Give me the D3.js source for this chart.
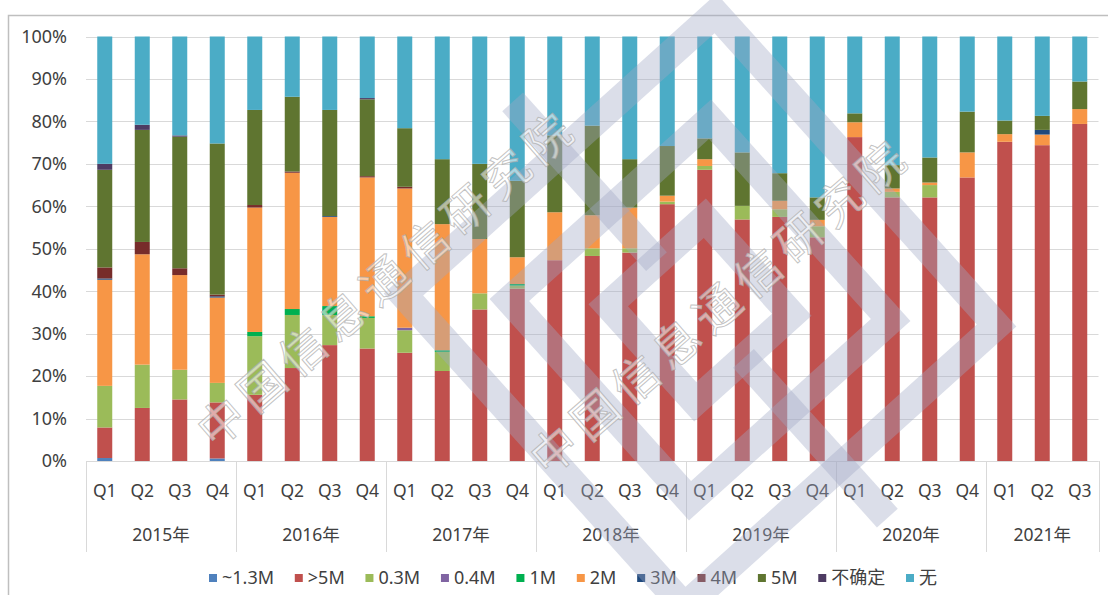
<!DOCTYPE html>
<meta charset="utf-8">
<style>
body { margin: 0; background: #fff; }
text { font-family: "Noto Sans", "Noto Sans CJK SC", sans-serif; fill: #404040; }
</style>
<svg width="1108" height="595"></svg>
<script src="https://d3js.org/d3.v7.min.js"></script>
<script>
// quarters / years on the x axis
var quarters = ["Q1","Q2","Q3","Q4"]
var years = ["2015年","2016年","2017年","2018年","2019年","2020年","2021年"]
var quartersPerYear = [4,4,4,4,4,4,3]

// series names (bottom to top) and colours
var seriesNames = ["~1.3M", ">5M", "0.3M", "0.4M", "1M", "2M", "3M", "4M", "5M", "不确定", "无"]
var seriesColors = ["#4f81bd","#c0504d","#9bbb59","#8064a2","#00b050","#f79646","#1f497d","#772c2a","#5f7530","#4d3b62","#4bacc6"]

// percentage shares, one value per quarter (2015Q1 .. 2021Q3)
var v13M   = [0.7,0,0,0.6,0,0,0,0,0,0,0,0,0,0,0,0,0,0,0,0,0,0,0,0,0,0,0]
var vGt5M  = [7.2,12.5,14.5,13.2,15.6,21.9,27.3,26.5,25.5,21.2,35.7,40.6,47.3,48.3,49.1,60.5,68.6,56.9,57.5,52.7,76.3,62.1,62.1,66.8,75.2,74.4,79.4]
var v03M   = [9.8,10.2,7.0,4.6,13.8,12.5,7.1,7.2,5.3,4.5,3.8,0.7,0,1.8,1.0,0.6,0.9,3.2,1.8,2.6,0,1.3,2.9,0,0,0,0]
var v04M   = [0,0,0,0,0,0,0,0,0.6,0,0,0,0,0,0,0,0,0,0,0,0,0,0,0,0,0,0]
var v1M    = [0,0,0,0,1.0,1.4,2.1,0.4,0,0.4,0,0.4,0,0,0,0,0,0,0,0,0,0,0,0,0,0,0]
var v2M    = [25.0,26.0,22.3,20.1,29.3,32.1,21.0,32.7,32.8,29.7,12.8,6.3,11.3,7.8,9.6,1.4,1.6,0,2.0,1.5,3.5,0.8,0.6,5.9,1.8,2.5,3.5]
var v3M    = [0.3,0,0,0.3,0,0,0.2,0,0,0,0,0,0,0,0,0,0,0,0,0,0,0,0,0,0,1.1,0]
var v4M    = [2.6,2.9,1.6,0.4,0.6,0.3,0,0.3,0.4,0,0,0,0,0,0,0,0,0,0,0,0,0,0,0,0,0,0]
var v5M    = [23.0,26.4,31.0,35.6,22.4,17.6,25.0,18.1,13.8,15.3,17.7,18.0,18.1,21.1,11.4,11.7,4.9,12.6,6.5,5.3,2.1,5.5,5.9,9.6,3.2,3.3,6.5]
var vUnsure= [1.4,1.2,0.3,0,0,0,0,0.3,0,0,0,0,0,0,0,0,0,0,0,0,0,0,0,0,0,0,0]
var vNone  = [30.0,20.8,23.3,25.2,17.3,14.2,17.3,14.5,21.6,28.9,30.0,34.0,23.3,21.0,28.9,25.8,24.0,27.3,32.2,37.9,18.1,30.3,28.5,17.7,19.8,18.7,10.6]

var yTicks = [0,10,20,30,40,50,60,70,80,90,100]

var seriesValues = [v13M, vGt5M, v03M, v04M, v1M, v2M, v3M, v4M, v5M, vUnsure, vNone]

// build rows for d3.stack
var cats = []
years.forEach(function (y, yi) {
  for (var q = 0; q < quartersPerYear[yi]; q++) cats.push({ id: y + quarters[q], year: y, q: quarters[q] })
})
var rows = cats.map(function (c, i) {
  var r = { id: c.id }
  seriesNames.forEach(function (s, si) { r[s] = seriesValues[si][i] })
  return r
})

const svg = d3.select('svg')

// frame of the picture
svg.append('path').attr('d', 'M8.5,595 V15.5 H1108').attr('fill', 'none')
  .attr('stroke', '#bfbfbf').attr('stroke-width', 1.5)

const x = d3.scaleBand().domain(cats.map(c => c.id)).range([86, 1098.5])
  .paddingInner(0.6).paddingOuter(0.3)
const y = d3.scaleLinear().domain([0, 100]).range([461, 36.5])
const step = x.step()

// gridlines + y labels
svg.append('g').selectAll('line').data(yTicks).enter().append('line')
  .attr('x1', 86).attr('x2', 1098.5)
  .attr('y1', d => Math.round(y(d)) + 0.5).attr('y2', d => Math.round(y(d)) + 0.5)
  .attr('stroke', '#d9d9d9')
svg.append('g').selectAll('text').data(yTicks).enter().append('text')
  .attr('x', 67).attr('y', d => y(d)).attr('dy', '0.35em')
  .attr('text-anchor', 'end').attr('font-size', 18)
  .text(d => d + '%')

// stacked bars
const stack = d3.stack().keys(seriesNames)
const layers = stack(rows)
svg.append('g').selectAll('g').data(layers).enter().append('g')
  .attr('fill', (d, i) => seriesColors[i])
  .selectAll('rect').data(d => d).enter().append('rect')
  .attr('x', d => x(d.data.id))
  .attr('width', x.bandwidth())
  .attr('y', d => y(d[1]))
  .attr('height', d => Math.max(0, y(d[0]) - y(d[1])))

// category axis: quarter labels, year labels, dividers
const axisG = svg.append('g')
axisG.selectAll('text.q').data(cats).enter().append('text')
  .attr('class', 'q')
  .attr('x', d => x(d.id) + x.bandwidth() / 2).attr('y', 491).attr('dy', '0.35em')
  .attr('text-anchor', 'middle').attr('font-size', 17.5)
  .text(d => d.q)

var start = 0
var bounds = []
years.forEach(function (yr, yi) {
  var first = cats[start].id, last = cats[start + quartersPerYear[yi] - 1].id
  var x0 = x(first) - step * 0.3, x1 = x(last) + x.bandwidth() + step * 0.3
  bounds.push({ year: yr, x0: x0, x1: x1 })
  start += quartersPerYear[yi]
})
axisG.selectAll('text.yr').data(bounds).enter().append('text')
  .attr('class', 'yr')
  .attr('x', d => (d.x0 + d.x1) / 2).attr('y', 535).attr('dy', '0.35em')
  .attr('text-anchor', 'middle').attr('font-size', 17.5)
  .text(d => d.year)
var divX = bounds.map(d => d.x0).concat([bounds[bounds.length - 1].x1])
axisG.selectAll('line').data(divX).enter().append('line')
  .attr('x1', d => Math.round(d) + 0.5).attr('x2', d => Math.round(d) + 0.5)
  .attr('y1', 461).attr('y2', 552)
  .attr('stroke', '#d9d9d9')
axisG.append('line').attr('x1', 86).attr('x2', 1098.5).attr('y1', 461.5).attr('y2', 461.5)
  .attr('stroke', '#d9d9d9')

// legend, spread between x=209 and x=937
const legend = svg.append('g').attr('transform', 'translate(209,578)')
var items = seriesNames.map(function (s, i) {
  var g = legend.append('g')
  g.append('rect').attr('x', 0).attr('y', -4).attr('width', 8).attr('height', 8).attr('fill', seriesColors[i])
  var t = g.append('text').attr('x', 13).attr('y', 0).attr('dy', '0.35em').attr('font-size', 18).text(s)
  return { g: g, w: 13 + t.node().getComputedTextLength() }
})
var totalW = d3.sum(items, d => d.w)
var gap = (937 - 209 - totalW) / (items.length - 1)
var lx = 0
items.forEach(function (it) {
  it.g.attr('transform', 'translate(' + lx + ',0)')
  lx += it.w + gap
})

// watermark (logo + text)
const wm = svg.append('g').attr('pointer-events', 'none')
const logo = wm.append('g').attr('transform', 'rotate(-42,700,310)')
  .attr('fill', 'none').attr('stroke', 'rgb(160,168,198)').attr('stroke-opacity', 0.38).attr('stroke-width', 28)
logo.append('rect').attr('x', 490).attr('y', 100).attr('width', 420).attr('height', 420)
logo.append('rect').attr('x', 565).attr('y', 175).attr('width', 270).attr('height', 270)
logo.append('rect').attr('x', 635).attr('y', 245).attr('width', 130).attr('height', 130)
logo.append('line').attr('x1', 700).attr('x2', 700).attr('y1', 30).attr('y2', 245)
logo.append('line').attr('x1', 700).attr('x2', 700).attr('y1', 375).attr('y2', 590)

var wmText = "中国信息通信研究院"
;[[215, 450], [548, 478]].forEach(function (p) {
  wm.append('text').attr('transform', 'translate(' + p[0] + ',' + p[1] + ') rotate(-41)')
    .attr('font-size', 46).attr('letter-spacing', 8)
    .style('fill', '#ffffff').attr('fill-opacity', 0.55)
    .attr('stroke', '#a8a8a8').attr('stroke-opacity', 0.7).attr('stroke-width', 1)
    .style('font-family', '"Noto Sans CJK SC", sans-serif')
    .text(wmText)
})
</script>
